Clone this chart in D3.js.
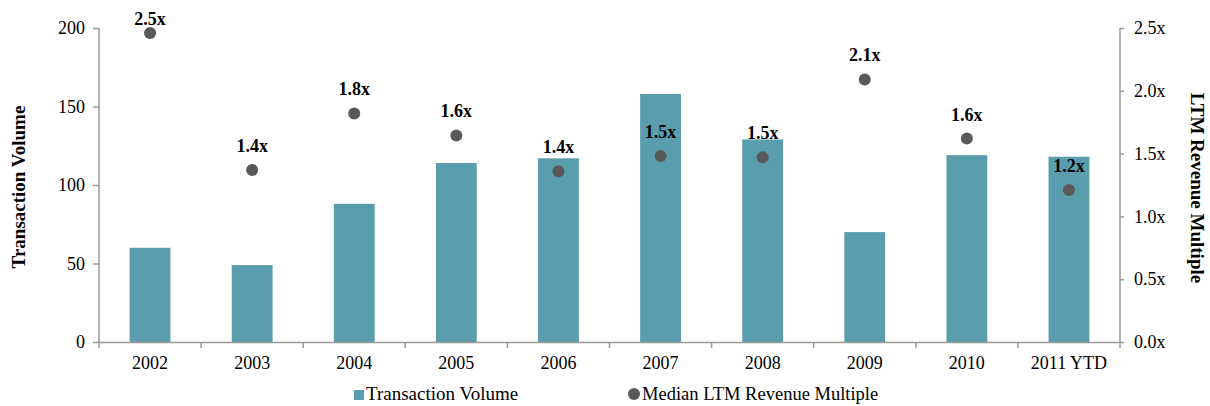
<!DOCTYPE html>
<html><head><meta charset="utf-8">
<script src="https://cdn.jsdelivr.net/npm/d3@7"></script>
<style>body{margin:0;background:#fff}text{font-family:"Liberation Serif","Times New Roman",serif}</style>
</head><body><svg id="c" width="1210" height="406"></svg>
<script>
const categories = ["2002","2003","2004","2005","2006","2007","2008","2009","2010","2011 YTD"];
const volume = [60, 49, 88, 114, 117, 158, 129, 70, 119, 118];
const multiple = [2.46, 1.37, 1.82, 1.645, 1.36, 1.48, 1.47, 2.09, 1.62, 1.21];
const multipleLabels = ["2.5x","1.4x","1.8x","1.6x","1.4x","1.5x","1.5x","2.1x","1.6x","1.2x"];
const leftTicks = [0, 50, 100, 150, 200];
const rightTicks = [0, 0.5, 1.0, 1.5, 2.0, 2.5];

const svg = d3.select("#c");
const L = 99, R = 1120, T = 28, B = 342;
const x = d3.scaleBand().domain(categories).range([L, R]).padding(0);
const yL = d3.scaleLinear().domain([0, 200]).range([B, T]);
const yR = d3.scaleLinear().domain([0, 2.5]).range([B, T]);
const barColor = "#5A9DAD", dotColor = "#595959", axisColor = "#999";
const FONT = '"Liberation Serif","Times New Roman",serif';

// bars
const bw = x.bandwidth() * 0.4;
svg.selectAll("rect.bar").data(categories).enter().append("rect")
  .attr("x", d => x(d) + x.bandwidth()/2 - bw/2)
  .attr("y", (d,i) => yL(volume[i]))
  .attr("width", bw)
  .attr("height", (d,i) => B - yL(volume[i]))
  .attr("fill", barColor);

// left axis
const gl = svg.append("g").attr("transform", `translate(${L},0)`)
  .call(d3.axisLeft(yL).tickValues(leftTicks).tickSize(6).tickPadding(8));
// right axis
const gr = svg.append("g").attr("transform", `translate(${R},0)`)
  .call(d3.axisRight(yR).tickValues(rightTicks).tickSize(4).tickPadding(10).tickFormat(d => d3.format(".1f")(d) + "x"));
// bottom axis
const gb = svg.append("g").attr("transform", `translate(0,${B})`)
  .call(d3.axisBottom(x).tickSize(0).tickPadding(14));
// category boundary ticks
svg.selectAll("line.bt").data(d3.range(categories.length + 1)).enter().append("line")
  .attr("x1", i => L + i * x.step()).attr("x2", i => L + i * x.step())
  .attr("y1", B).attr("y2", B + 6).attr("stroke", axisColor).attr("stroke-width", 1.5);

[gl, gr, gb].forEach(g => {
  g.selectAll(".domain").attr("stroke", axisColor).attr("stroke-width", 1.5);
  g.selectAll(".tick line").attr("stroke", axisColor).attr("stroke-width", 1.5);
  g.selectAll("text").attr("font-size", 18).attr("fill", "#000").attr("font-family", FONT);
});
gr.select(".domain").attr("d", `M0,${B}V${T}`);
gl.select(".domain").attr("d", `M0,${B}V${T}`);

// dots
svg.selectAll("circle.dot").data(categories).enter().append("circle")
  .attr("cx", d => x(d) + x.bandwidth()/2)
  .attr("cy", (d,i) => yR(multiple[i]))
  .attr("r", 6).attr("fill", dotColor);
svg.selectAll("text.lab").data(categories).enter().append("text")
  .attr("x", d => x(d) + x.bandwidth()/2)
  .attr("y", (d,i) => Math.max(yR(multiple[i]) - 18, 25))
  .attr("text-anchor", "middle").attr("font-size", 18).attr("font-weight", "bold")
  .text((d,i) => multipleLabels[i]);

// axis titles
svg.append("text").attr("transform", `translate(25,187) rotate(-90)`)
  .attr("text-anchor", "middle").attr("font-size", 19).attr("font-weight", "bold")
  .text("Transaction Volume");
svg.append("text").attr("transform", `translate(1191,188) rotate(90)`)
  .attr("text-anchor", "middle").attr("font-size", 19).attr("font-weight", "bold")
  .text("LTM Revenue Multiple");

// legend
const lg = svg.append("g");
lg.append("rect").attr("x", 354).attr("y", 390).attr("width", 10).attr("height", 10).attr("fill", barColor);
lg.append("text").attr("x", 366).attr("y", 400).attr("font-size", 19).text("Transaction Volume");
lg.append("circle").attr("cx", 634).attr("cy", 394).attr("r", 6).attr("fill", dotColor);
lg.append("text").attr("x", 642).attr("y", 400).attr("font-size", 18.5).text("Median LTM Revenue Multiple");
</script></body></html>
